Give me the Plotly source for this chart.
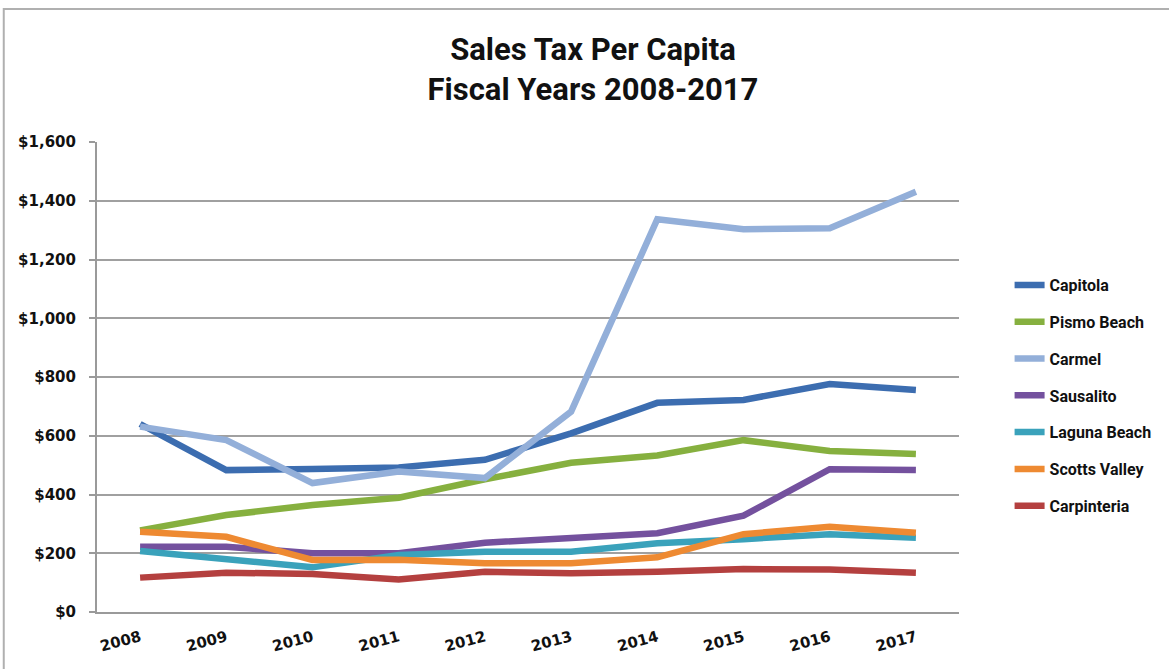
import plotly.graph_objects as go

years = ["2008", "2009", "2010", "2011", "2012", "2013", "2014", "2015", "2016", "2017"]

capitola = [640, 483, 487, 492, 518, 608, 712, 722, 776, 756]
pismo_beach = [278, 330, 364, 389, 452, 508, 533, 585, 548, 538]
carmel = [631, 585, 439, 478, 456, 682, 1337, 1303, 1306, 1431]
sausalito = [222, 222, 200, 200, 236, 251, 268, 328, 486, 483]
laguna_beach = [208, 180, 152, 194, 205, 205, 234, 248, 265, 253]
scotts_valley = [273, 256, 177, 178, 166, 166, 186, 265, 290, 270]
carpinteria = [117, 134, 129, 111, 137, 132, 137, 146, 145, 134]

series = [
    ("Capitola", capitola, "#3C6DB0"),
    ("Pismo Beach", pismo_beach, "#86B03F"),
    ("Carmel", carmel, "#93AFD9"),
    ("Sausalito", sausalito, "#74519E"),
    ("Laguna Beach", laguna_beach, "#3AA2BB"),
    ("Scotts Valley", scotts_valley, "#EE8A32"),
    ("Carpinteria", carpinteria, "#B4403F"),
]

TITLE_FONT = "Roboto, sans-serif"
TICK_FONT = "DejaVu Sans, sans-serif"
INK = "#111111"

fig = go.Figure()
for name, vals, color in series:
    fig.add_trace(go.Scatter(
        x=years, y=vals, name=name, mode="lines",
        legendgroup=name,
        line=dict(color=color, width=6.5),
    ))

W, H = 1169, 669
L, R, T, B = 97, 966, 142, 612

fig.update_layout(
    width=W, height=H,
    margin=dict(l=L, r=W - R, t=T, b=H - B),
    paper_bgcolor="white", plot_bgcolor="white",
    font=dict(family=TITLE_FONT, color=INK),
    title=dict(
        text="Sales Tax Per Capita<br>Fiscal Years 2008-2017",
        x=593 / W, xref="container", xanchor="center",
        y=1 - 60 / H, yref="container", yanchor="middle",
        font=dict(family=TITLE_FONT, size=31, color=INK, weight="bold"),
    ),
    showlegend=True,
    legend=dict(
        x=(1017 - L) / (R - L), xanchor="left",
        y=(B - 268) / (B - T), yanchor="top",
        font=dict(family=TITLE_FONT, size=16, color=INK, weight="bold"),
        traceorder="grouped", tracegroupgap=13,
        bgcolor="rgba(0,0,0,0)",
    ),
    xaxis=dict(
        type="category", range=[-0.5, 9.5],
        showgrid=False, showline=True, linecolor="#9a9a9a", linewidth=2,
        ticks="", tickangle=-15,
        tickfont=dict(family=TICK_FONT, size=15, color=INK, weight="bold"),
        ticklabelstandoff=9,
    ),
    yaxis=dict(
        range=[0, 1600], dtick=200, tickprefix="$", tickformat=",",
        showgrid=True, gridcolor="#a0a0a0", gridwidth=1.6,
        showline=True, linecolor="#9a9a9a", linewidth=2,
        ticks="outside", ticklen=6, tickcolor="#9a9a9a", tickwidth=1.6,
        tickfont=dict(family=TICK_FONT, size=15, color=INK, weight="bold"),
        ticklabelstandoff=10,
        zeroline=False,
    ),
    shapes=[
        dict(type="rect", xref="paper", yref="paper",
             x0=(3 - L) / (R - L), x1=(1190 - L) / (R - L),
             y0=(B - 700) / (B - T), y1=(B - 9) / (B - T),
             line=dict(color="#b0b0b0", width=2), layer="below"),
    ],
)

fig.write_html("out.html")
